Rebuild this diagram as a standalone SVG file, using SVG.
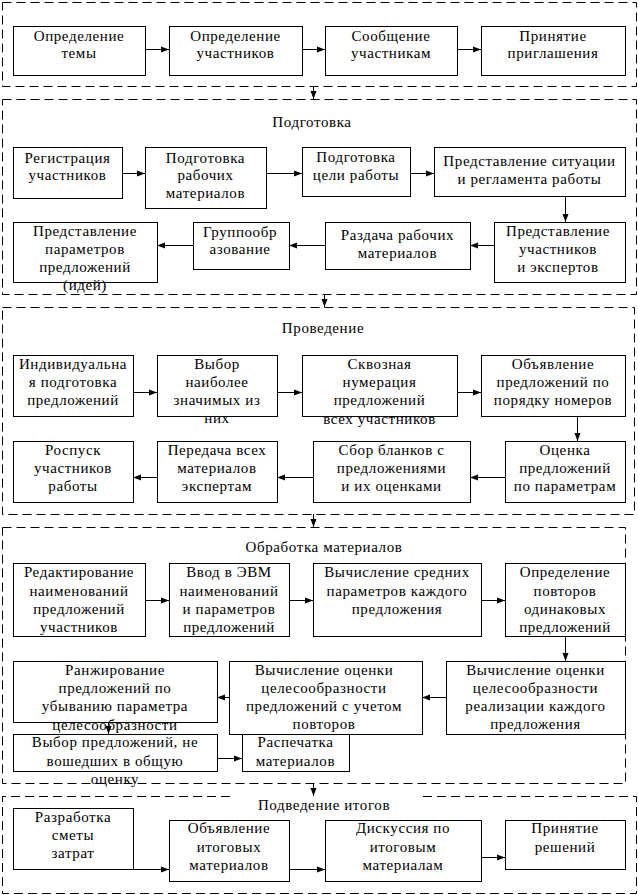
<svg xmlns="http://www.w3.org/2000/svg" width="638" height="895" viewBox="0 0 638 895">
<style>
.sec{fill:none;stroke:#000;stroke-width:1;stroke-dasharray:9 5}
.box{fill:#fff;stroke:#000;stroke-width:1}
.c{fill:none;stroke:#000;stroke-width:1;marker-end:url(#ah)}
text{font-family:"Liberation Serif","Times New Roman",serif;font-size:15px;fill:#000;text-anchor:middle;letter-spacing:0.6px}
</style>
<defs>
<marker id="ah" markerUnits="userSpaceOnUse" markerWidth="8" markerHeight="7" refX="8" refY="3.5" orient="auto">
<path d="M0,0.5 L8,3.5 L0,6.5 Z" fill="#000"/>
</marker>
</defs>
<rect width="638" height="895" fill="#fff"/>
<g id="sections">
<rect class="sec" x="2.5" y="2.5" width="634" height="84"/>
<rect class="sec" x="2.5" y="99.5" width="634" height="195"/>
<rect class="sec" x="2.5" y="307.5" width="632" height="207"/>
<rect class="sec" x="2.5" y="527.5" width="623" height="256"/>
<path class="sec" d="M230,796.5 H2.5 V893.5 H636.5 V796.5 H420"/>
</g>
<g id="titles">
<text x="312" y="127">Подготовка</text>
<text x="323" y="333">Проведение</text>
<text x="324" y="552">Обработка материалов</text>
<text x="324" y="810">Подведение итогов</text>
</g>
<g id="connectors">
<line class="c" x1="145" y1="49.5" x2="169" y2="49.5"/>
<line class="c" x1="302" y1="49.5" x2="325" y2="49.5"/>
<line class="c" x1="457" y1="49.5" x2="481" y2="49.5"/>
<line class="c" x1="313.5" y1="86" x2="313.5" y2="99"/>
<line class="c" x1="122" y1="173.5" x2="145" y2="173.5"/>
<line class="c" x1="266" y1="173.5" x2="302" y2="173.5"/>
<line class="c" x1="410" y1="173.5" x2="434" y2="173.5"/>
<line class="c" x1="565.5" y1="196" x2="565.5" y2="222"/>
<line class="c" x1="494" y1="245.5" x2="470" y2="245.5"/>
<line class="c" x1="325" y1="245.5" x2="289" y2="245.5"/>
<line class="c" x1="193" y1="245.5" x2="157" y2="245.5"/>
<line class="c" x1="324.5" y1="294" x2="324.5" y2="307"/>
<line class="c" x1="133" y1="392.5" x2="157" y2="392.5"/>
<line class="c" x1="277" y1="392.5" x2="302" y2="392.5"/>
<line class="c" x1="457" y1="392.5" x2="481" y2="392.5"/>
<line class="c" x1="577.5" y1="416" x2="577.5" y2="441"/>
<line class="c" x1="505" y1="477.5" x2="470" y2="477.5"/>
<line class="c" x1="313" y1="477.5" x2="277" y2="477.5"/>
<line class="c" x1="157" y1="477.5" x2="133" y2="477.5"/>
<line class="c" x1="313.5" y1="514" x2="313.5" y2="527"/>
<line class="c" x1="145" y1="600.5" x2="169" y2="600.5"/>
<line class="c" x1="289" y1="600.5" x2="313" y2="600.5"/>
<line class="c" x1="481" y1="600.5" x2="505" y2="600.5"/>
<line class="c" x1="565.5" y1="636" x2="565.5" y2="661"/>
<line class="c" x1="446" y1="697.5" x2="422" y2="697.5"/>
<line class="c" x1="229" y1="697.5" x2="217" y2="697.5"/>
<line class="c" x1="108.5" y1="722" x2="108.5" y2="734"/>
<line class="c" x1="217" y1="758.5" x2="242" y2="758.5"/>
<line class="c" x1="313.5" y1="783" x2="313.5" y2="796"/>
<line class="c" x1="133" y1="869.5" x2="169" y2="869.5"/>
<line class="c" x1="289" y1="869.5" x2="325" y2="869.5"/>
<line class="c" x1="481" y1="857.5" x2="505" y2="857.5"/>
</g>
<g id="n1"><rect class="box" x="13.5" y="26.5" width="132" height="49"/><text x="79" y="41">Определение</text><text x="79" y="58">темы</text></g>
<g id="n2"><rect class="box" x="169.5" y="26.5" width="133" height="49"/><text x="235.5" y="41">Определение</text><text x="235.5" y="58">участников</text></g>
<g id="n3"><rect class="box" x="325.5" y="26.5" width="132" height="49"/><text x="391" y="41">Сообщение</text><text x="391" y="58">участникам</text></g>
<g id="n4"><rect class="box" x="481.5" y="26.5" width="144" height="49"/><text x="553" y="41">Принятие</text><text x="553" y="58">приглашения</text></g>
<g id="n5"><rect class="box" x="13.5" y="147.5" width="109" height="51"/><text x="67.5" y="163">Регистрация</text><text x="67.5" y="180">участников</text></g>
<g id="n6"><rect class="box" x="145.5" y="147.5" width="121" height="61"/><text x="205.5" y="163">Подготовка</text><text x="205.5" y="180">рабочих</text><text x="205.5" y="198">материалов</text></g>
<g id="n7"><rect class="box" x="302.5" y="147.5" width="108" height="49"/><text x="356" y="162">Подготовка</text><text x="356" y="180">цели работы</text></g>
<g id="n8"><rect class="box" x="434.5" y="147.5" width="191" height="49"/><text x="529.5" y="166">Представление ситуации</text><text x="529.5" y="184">и регламента работы</text></g>
<g id="n9"><rect class="box" x="494.5" y="222.5" width="131" height="60"/><text x="558" y="236">Представление</text><text x="558" y="254">участников</text><text x="558" y="272">и экспертов</text></g>
<g id="n10"><rect class="box" x="325.5" y="222.5" width="145" height="47"/><text x="397.5" y="240">Раздача рабочих</text><text x="397.5" y="258">материалов</text></g>
<g id="n11"><rect class="box" x="193.5" y="222.5" width="96" height="47"/><text x="240" y="237">Группообр</text><text x="240" y="254">азование</text></g>
<g id="n12"><rect class="box" x="13.5" y="222.5" width="144" height="60"/><text x="85" y="236">Представление</text><text x="85" y="254">параметров</text><text x="85" y="272">предложений</text><text x="85" y="290">(идей)</text></g>
<g id="n13"><rect class="box" x="13.5" y="355.5" width="120" height="61"/><text x="73" y="369">Индивидуальна</text><text x="73" y="387">я подготовка</text><text x="73" y="405">предложений</text></g>
<g id="n14"><rect class="box" x="157.5" y="355.5" width="120" height="61"/><text x="217" y="369">Выбор</text><text x="217" y="387">наиболее</text><text x="217" y="405">значимых из</text><text x="217" y="423">них</text></g>
<g id="n15"><rect class="box" x="302.5" y="355.5" width="155" height="61"/><text x="379.5" y="369">Сквозная</text><text x="379.5" y="387">нумерация</text><text x="379.5" y="405">предложений</text><text x="379.5" y="424">всех участников</text></g>
<g id="n16"><rect class="box" x="481.5" y="355.5" width="144" height="61"/><text x="553" y="369">Объявление</text><text x="553" y="387">предложений по</text><text x="553" y="405">порядку номеров</text></g>
<g id="n17"><rect class="box" x="505.5" y="441.5" width="120" height="61"/><text x="565" y="455">Оценка</text><text x="565" y="473">предложений</text><text x="565" y="491">по параметрам</text></g>
<g id="n18"><rect class="box" x="313.5" y="441.5" width="157" height="61"/><text x="391.5" y="455">Сбор бланков с</text><text x="391.5" y="473">предложениями</text><text x="391.5" y="491">и их оценками</text></g>
<g id="n19"><rect class="box" x="157.5" y="441.5" width="120" height="61"/><text x="217" y="455">Передача всех</text><text x="217" y="473">материалов</text><text x="217" y="491">экспертам</text></g>
<g id="n20"><rect class="box" x="13.5" y="441.5" width="120" height="61"/><text x="73" y="455">Роспуск</text><text x="73" y="473">участников</text><text x="73" y="491">работы</text></g>
<g id="n21"><rect class="box" x="13.5" y="563.5" width="132" height="73"/><text x="79" y="577">Редактирование</text><text x="79" y="596">наименований</text><text x="79" y="614">предложений</text><text x="79" y="632">участников</text></g>
<g id="n22"><rect class="box" x="169.5" y="563.5" width="120" height="73"/><text x="229" y="577">Ввод в ЭВМ</text><text x="229" y="596">наименований</text><text x="229" y="614">и параметров</text><text x="229" y="632">предложений</text></g>
<g id="n23"><rect class="box" x="313.5" y="563.5" width="168" height="73"/><text x="397" y="577">Вычисление средних</text><text x="397" y="596">параметров каждого</text><text x="397" y="614">предложения</text></g>
<g id="n24"><rect class="box" x="505.5" y="563.5" width="120" height="73"/><text x="565" y="577">Определение</text><text x="565" y="596">повторов</text><text x="565" y="614">одинаковых</text><text x="565" y="632">предложений</text></g>
<g id="n25"><rect class="box" x="446.5" y="661.5" width="179" height="73"/><text x="535.5" y="675">Вычисление оценки</text><text x="535.5" y="693">целесообразности</text><text x="535.5" y="711">реализации каждого</text><text x="535.5" y="729">предложения</text></g>
<g id="n26"><rect class="box" x="229.5" y="661.5" width="193" height="73"/><text x="324" y="675">Вычисление оценки</text><text x="324" y="693">целесообразности</text><text x="324" y="711">предложений с учетом</text><text x="324" y="729">повторов</text></g>
<g id="n27"><rect class="box" x="13.5" y="661.5" width="204" height="61"/><text x="115" y="675">Ранжирование</text><text x="115" y="693">предложений по</text><text x="115" y="711">убыванию параметра</text><text x="115" y="730">целесообразности</text></g>
<g id="n28"><rect class="box" x="13.5" y="734.5" width="204" height="37"/><text x="115" y="747">Выбор предложений, не</text><text x="115" y="766">вошедших в общую</text><text x="115" y="784">оценку</text></g>
<g id="n29"><rect class="box" x="242.5" y="734.5" width="107" height="37"/><text x="295.5" y="747">Распечатка</text><text x="295.5" y="766">материалов</text></g>
<g id="n30"><rect class="box" x="13.5" y="808.5" width="120" height="61"/><text x="73" y="822">Разработка</text><text x="73" y="840">сметы</text><text x="73" y="858">затрат</text></g>
<g id="n31"><rect class="box" x="169.5" y="820.5" width="120" height="61"/><text x="229" y="833">Объявление</text><text x="229" y="852">итоговых</text><text x="229" y="870">материалов</text></g>
<g id="n32"><rect class="box" x="325.5" y="820.5" width="156" height="61"/><text x="403" y="833">Дискуссия по</text><text x="403" y="852">итоговым</text><text x="403" y="870">материалам</text></g>
<g id="n33"><rect class="box" x="505.5" y="820.5" width="120" height="49"/><text x="565" y="833">Принятие</text><text x="565" y="852">решений</text></g>
</svg>
